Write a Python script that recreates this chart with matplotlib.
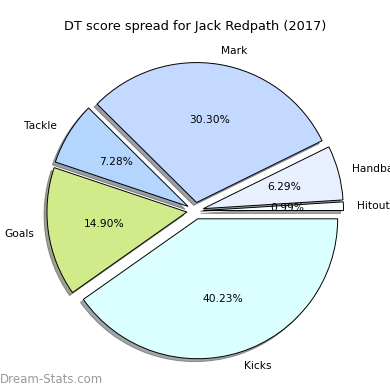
import matplotlib
matplotlib.use("Agg")
import matplotlib.pyplot as plt

# DT score breakdown, Jack Redpath 2017
labels = ['Hitouts', 'Handball', 'Mark', 'Tackle', 'Goals', 'Kicks']
shares = [0.99, 6.29, 30.30, 7.28, 14.90, 40.23]
colors = ['#ffffff', '#e8f0ff', '#c4d9ff', '#b4d5fe', '#d1eb8b', '#dbffff']
explode = [0.06] * len(shares)

fig = plt.figure(figsize=(3.9, 3.9), dpi=100)
ax = fig.add_axes([0.052, 0.011, 0.897, 0.897])

wedges, texts, autotexts = ax.pie(shares, labels=labels, colors=colors, explode=explode,
                                  autopct='%1.2f%%', startangle=0,
                                  shadow={'ox': -0.015, 'oy': -0.015},
                                  wedgeprops={'edgecolor': 'black', 'linewidth': 0.7},
                                  textprops={'fontsize': 7.7})
ax.set_title('DT score spread for Jack Redpath (2017)', fontsize=9.3, pad=4)

fig.text(0.0, 0.01, 'Dream-Stats.com', fontsize=8.5, color='#999999', ha='left', va='bottom')

fig.savefig('out.png', dpi=100)
